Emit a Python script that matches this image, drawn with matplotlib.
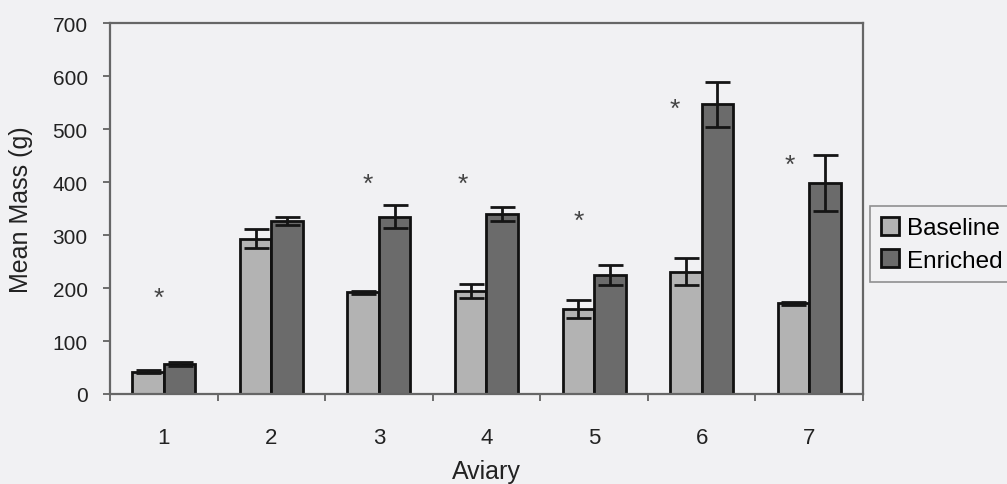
import numpy as np
import matplotlib.pyplot as plt

plt.rcParams['font.family'] = ['Liberation Sans', 'DejaVu Sans']

aviaries = ['1', '2', '3', '4', '5', '6', '7']
baseline = [42, 293, 192, 195, 160, 231, 171]
baseline_err = [3, 18, 3, 13, 17, 26, 2]
enriched = [56, 327, 335, 340, 225, 547, 399]
enriched_err = [4, 8, 22, 13, 19, 43, 53]
# asterisk marks (x in category units, y in grams)
star_x = [0.45, 2.40, 3.28, 4.36, 5.25, 6.32]
star_y = [182, 397, 397, 327, 539, 433]

bg = '#f1f1f3'
fig = plt.figure(figsize=(10.07, 4.85), dpi=100, facecolor=bg)
ax = fig.add_axes([0.1092, 0.1856, 0.7478, 0.764], facecolor=bg)

x = np.arange(len(aviaries)) + 0.5
w = 0.293
ekw = dict(elinewidth=2, capthick=2, ecolor='#151515')
ax.bar(x - w / 2, baseline, w, yerr=baseline_err, capsize=9, color='#b3b3b3',
       edgecolor='#111111', linewidth=2, label='Baseline', error_kw=ekw, zorder=2)
ax.bar(x + w / 2, enriched, w, yerr=enriched_err, capsize=9, color='#6b6b6b',
       edgecolor='#111111', linewidth=2, label='Enriched', error_kw=ekw, zorder=2)

for sx, sy in zip(star_x, star_y):
    ax.text(sx, sy, '*', fontsize=19, color='#444444', ha='center', va='center')

ax.set_xlim(0, 7)
ax.set_ylim(0, 700)
ax.set_yticks(range(0, 701, 100))
ax.set_xticks(range(0, 8))
ax.set_xticklabels([])
ax.set_xticks(x, minor=True)
ax.set_xticklabels(aviaries, minor=True)
ax.tick_params(axis='x', which='minor', length=0, pad=24, labelsize=16, colors='#222222')
ax.tick_params(axis='x', which='major', length=5, width=1.2, color='#555555')
ax.tick_params(axis='y', length=5, width=1.2, color='#555555', pad=11,
               labelsize=15, labelcolor='#222222')

for s in ax.spines.values():
    s.set_color('#666666')
    s.set_linewidth(1.6)

ax.set_ylabel('Mean Mass (g)', fontsize=18, color='#222222', labelpad=14)
ax.set_xlabel('Aviary', fontsize=18, color='#222222', labelpad=8)

leg = fig.legend(loc='upper left', bbox_to_anchor=(0.864, 0.573), fontsize=17.5,
                 frameon=True, fancybox=False, edgecolor='#777777', facecolor=bg,
                 handlelength=0.75, handleheight=0.75, handletextpad=0.3,
                 borderpad=0.45, labelspacing=0.4, borderaxespad=0)
leg.get_frame().set_linewidth(1.2)

fig.savefig('out.png', dpi=100, facecolor=bg)
